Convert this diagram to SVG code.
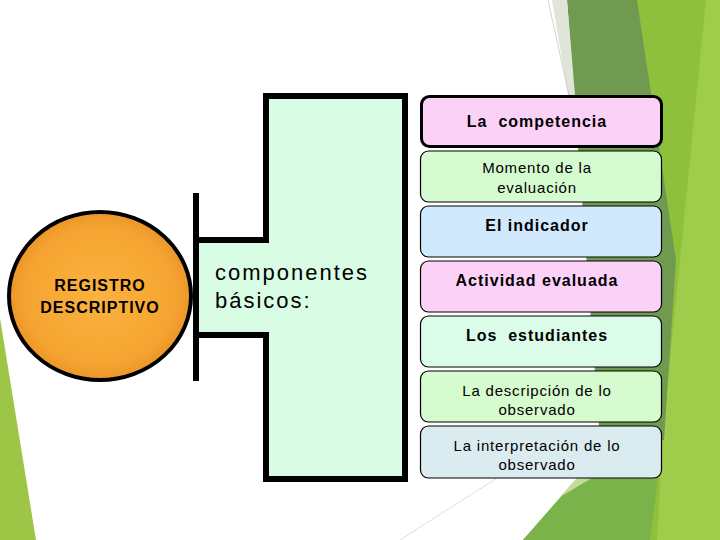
<svg xmlns="http://www.w3.org/2000/svg" width="720" height="540" viewBox="0 0 720 540">
<defs>
<radialGradient id="orange" cx="50%" cy="50%" r="55%">
<stop offset="0" stop-color="#fcb23e"/>
<stop offset="0.75" stop-color="#f5a431"/>
<stop offset="1" stop-color="#e48d25"/>
</radialGradient>
<style>
text{font-family:"Liberation Sans",Arial,Helvetica,sans-serif;fill:#000;text-anchor:middle;white-space:pre}
.b{font-weight:bold;font-size:16px;letter-spacing:1px}
.r{font-size:15px;letter-spacing:0.8px}
.c{font-weight:bold;font-size:16px;letter-spacing:1px}
.k{font-size:22px;text-anchor:start;letter-spacing:2px}
.box{stroke:#000;stroke-width:1.2}
</style>
</defs>
<rect width="720" height="540" fill="#ffffff"/>
<g id="background">
<polygon points="0,318 36,540 0,540" fill="#9dc646"/>
<polygon points="637,0 720,0 720,540 523,540 620,430 620,100" fill="#8fc03c"/>
<polygon points="706,0 720,0 720,540 657,540 663,430" fill="#9fcc4b"/>
<polygon points="567,0 637,0 676,260 664,440 600,440" fill="#6f9a4f"/>
<polygon points="552,0 567,0 575,95 568,95" fill="#dfe5d8"/>
<polygon points="523,540 600,452 662,445 650,540" fill="#7ab349"/>
<polygon points="560,497 577,478 592,478" fill="#c3dc9a"/>
<line x1="548" y1="0" x2="570" y2="100" stroke="#c8c8c8" stroke-width="0.8"/>
<line x1="400" y1="540" x2="500" y2="476" stroke="#d6d6d6" stroke-width="0.8"/>
</g>
<g id="connectors">
<path d="M196,240 H266 V96 H405 V479 H266 V335 H196 Z" fill="#d9fde4" stroke="none"/>
<path d="M196,240 H266 V96 H405 V479 H266 V335 H196" fill="none" stroke="#000" stroke-width="6"/>
<line x1="196" y1="193" x2="196" y2="381" stroke="#000" stroke-width="6"/>
</g>
<g id="registro">
<ellipse cx="100" cy="296" rx="91" ry="84" fill="url(#orange)" stroke="#000" stroke-width="4"/>
<text class="c" x="100" y="291">REGISTRO</text>
<text class="c" x="100" y="313">DESCRIPTIVO</text>
</g>
<g id="componentes">
<text class="k" x="215" y="280">componentes</text>
<text class="k" x="215" y="308">básicos:</text>
</g>
<g id="competencia">
<rect x="421.5" y="96.5" width="240" height="50" rx="8" fill="#fcd1f8" stroke="#000" stroke-width="3"/>
<text class="b" x="537" y="127" xml:space="preserve">La  competencia</text>
</g>
<g id="momento">
<rect class="box" x="420.5" y="151" width="241" height="51" rx="8" fill="#d5fbd0"/>
<text class="r" x="537" y="173">Momento de la</text>
<text class="r" x="537" y="193">evaluación</text>
</g>
<g id="indicador">
<rect class="box" x="420.5" y="206" width="241" height="51" rx="8" fill="#d0e9fc"/>
<text class="b" x="537" y="231">El indicador</text>
</g>
<g id="actividad">
<rect class="box" x="420.5" y="261" width="241" height="51" rx="8" fill="#fcd1f8"/>
<text class="b" x="537" y="286">Actividad evaluada</text>
</g>
<g id="estudiantes">
<rect class="box" x="420.5" y="316" width="241" height="51" rx="8" fill="#dcfcea"/>
<text class="b" x="537" y="341" xml:space="preserve">Los  estudiantes</text>
</g>
<g id="descripcion">
<rect class="box" x="420.5" y="371" width="241" height="51" rx="8" fill="#d5fbcf"/>
<text class="r" x="537" y="396">La descripción de lo</text>
<text class="r" x="537" y="415">observado</text>
</g>
<g id="interpretacion">
<rect class="box" x="420.5" y="426" width="241" height="52" rx="8" fill="#daecef"/>
<text class="r" x="537" y="451">La interpretación de lo</text>
<text class="r" x="537" y="470">observado</text>
</g>
</svg>
